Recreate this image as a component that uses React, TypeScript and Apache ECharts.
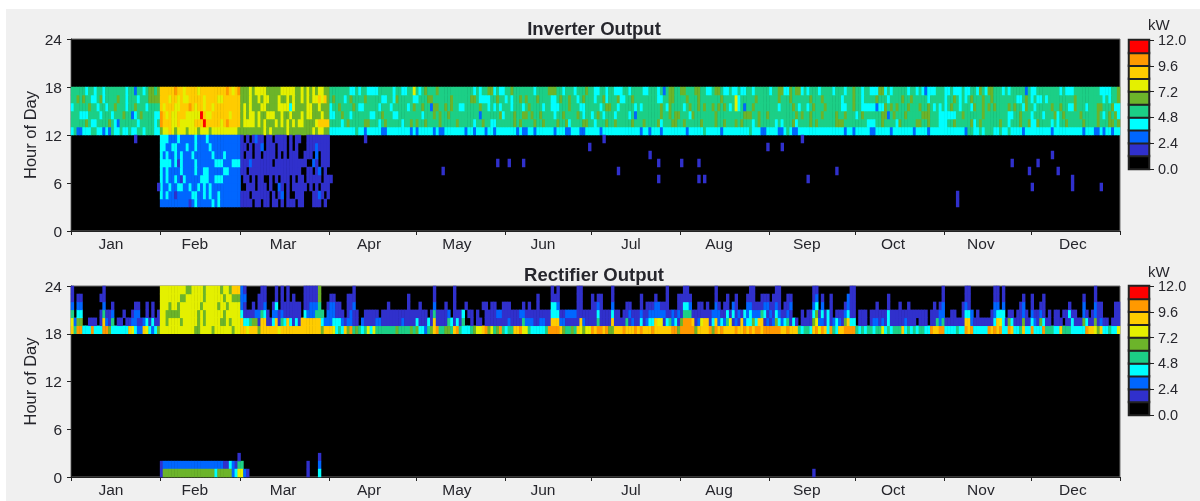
import React, { useEffect, useRef } from "react";
import * as echarts from "echarts";

// ---------- shared tables ----------
const months = ["Jan", "Feb", "Mar", "Apr", "May", "Jun", "Jul", "Aug", "Sep", "Oct", "Nov", "Dec"];
const monthStarts = [0, 31, 59, 90, 120, 151, 181, 212, 243, 273, 304, 334, 365];
const monthLabelDays = [13.9, 43.1, 73.8, 103.7, 134.3, 164.2, 194.8, 225.5, 256, 286, 316.6, 348.6];
const hourTicks = ["0", "6", "12", "18", "24"];
// one digit per day = colour band of the legend (0 = black ... 9 = red)
const bandValues = [0.6, 1.8, 3.0, 4.2, 5.4, 6.6, 7.8, 9.0, 10.2, 11.4];
const bandColors = ["#000000", "#3030cc", "#0066ff", "#00ffff", "#1ccf86", "#6cb42a", "#e4f000", "#ffcc00", "#ff9900", "#ff0000"];

// ---------- Inverter Output, 12:00-18:00 ----------
const invH17 = "44444 34434 43444 44443 44244 34554 5|77777 87767 77767 77777 77787 678|55565 66665 55556 66665 56565 65665 5|44444 44334 34433 33444 44344 33446|43454 44544 44444 44444 34344 55343 3|44544 44444 34444 55544 34443 44454|43344 34433 34434 44433 44434 24554 4|55444 55443 34554 33433 43344 34444 4|34455 33545 53434 44344 44344 43445|44344 33355 34344 44434 43432 33344 4|33433 34334 43543 55444 34344 44424|33444 44444 34333 44444 44443 33344 5";
const invH16 = "44545 44334 53444 45443 44434 44555 5|77767 76766 77777 67777 66777 777|55565 56566 55565 56565 56565 66767 5|45444 34544 44544 44433 44354 44443|34445 54444 44544 44445 54333 34454 4|34344 54544 45444 43345 44544 34544|43445 34445 33445 44444 44433 44554 4|44544 45444 44445 44446 34444 45444 4|44454 44544 44445 44454 44444 34445|44344 44544 43444 45445 44444 34444 4|34454 34345 44454 45444 44444 33454|34334 34444 44444 54444 44444 34344 5";
const invH15 = "34444 45443 44344 54443 44544 43444 4|76777 66777 87677 67767 77777 777|56565 55665 55566 66365 55566 55655 5|34454 44454 33444 44344 43444 44345|44544 25544 54544 33444 44544 34343 4|44344 43454 44434 43334 44544 43344|44434 55443 44444 34344 44445 43544 4|43454 45454 45454 54346 34244 54444 4|44434 44454 34434 54445 44444 33445|44333 33233 54545 44454 44544 54343 4|34544 34443 54454 54544 44545 44354|43444 44544 54433 54443 44455 44453 3";
const invH14 = "44433 34444 34443 44454 42345 44443 3|87676 67776 66669 76677 77776 777|56566 56556 66556 55655 56566 55565 5|33445 44344 44443 34454 44334 44444|44344 45454 45444 44444 44244 44445 3|44454 45545 44544 44344 54444 54344|34543 44434 44434 24444 44445 44545 5|44435 44444 44544 44444 44555 44544 5|44444 44445 45445 44454 44454 45444|34544 44445 52454 44544 44455 54443 3|33334 45444 44454 44444 44334 45444|34443 44453 45444 44544 44454 34545 3";
const invH13 = "44444 54334 44454 32444 44434 44443 4|87776 67666 66777 97777 76787 777|56666 56565 55656 56565 66555 56777 7|44443 45444 44554 44345 44444 34454|54454 44454 44445 44444 34454 43344 4|44454 54444 54454 44454 45344 44554|43444 54454 44445 44454 44453 44455 4|45444 44544 44544 54445 45444 34544 4|44343 44453 44445 45444 44455 54444|44443 33445 44443 54444 45544 54443 3|34454 44445 34544 44445 44344 45445|33544 44343 44544 44454 44454 44554 5";
const invH12 = "34223 33443 32324 33433 43344 34443 3|56676 56665 66656 66566 66666 665|55555 55565 65555 56555 55555 65665 5|33333 33334 33233 33322 33333 33323|23333 32322 33333 33233 23332 33233 3|33332 32233 23333 33233 32233 32233|33323 33333 33333 33233 23332 33333 3|33233 33343 33332 33333 33334 33322 3|33322 34322 33333 33333 33333 32332|33333 22333 33233 33333 23333 23333 3|33333 33244 33434 44334 33433 33233|33333 33233 33333 33323 33223 23323 3";

// ---------- Inverter Output, Feb + Mar mornings ----------
const invLowStartDay = 31;
const invH11 = "33322 23222 22322 23222 22222 222|10101 21101 10111 10101 10011 11111 1";
const invH10 = "33223 32223 22322 22322 22222 222|11010 11201 11011 10101 00011 12111 1";
const invH9 = "32322 32322 23222 22232 22322 222|10110 11011 11010 10111 00111 02011 1";
const invH8 = "33332 31322 22322 22223 33222 333|11121 11111 10111 11111 11100 21011 1";
const invH7 = "32322 22322 22322 33222 22332 222|11011 11111 11111 11111 10011 01201 0";
const invH6 = "32322 32132 22223 33223 33222 222|01101 01100 10101 11010 11011 11101 1";
const invH5 = "32232 23322 32232 32322 22222 222|00111 01110 10021 01011 11101 01011 1";
const invH4 = "32322 12222 23322 32322 32222 222|11101 11111 01012 01001 11000 11210 1";
const invH3 = "22222 22222 12322 22232 32222 222|11110 11011 01101 01110 11000 11101 0";

// isolated indigo hours: [day, hour]
const invIsolated = [
  [22, 11], [102, 11], [90, 6], [30, 5], [185, 11], [180, 10], [242, 10], [247, 10], [201, 9],
  [148, 8], [152, 8], [157, 8], [204, 8], [212, 8], [218, 8], [129, 7], [190, 7], [204, 6], [218, 6], [220, 6],
  [254, 11], [341, 9], [327, 8], [336, 8], [266, 7], [333, 7], [343, 7], [348, 6], [348, 5], [256, 6],
  [334, 5], [358, 5], [308, 4], [308, 3],
];

// ---------- Rectifier Output, 18:00-24:00 ----------
const recH23 = "10000 00000 01000 00000 00000 00000 0|66666 66665 56666 56666 65665 777|21000 00110 00101 01000 00111 11500 0|00000 00010 00000 00000 00000 00000|00000 01000 00010 00000 00000 00000 0|00000 00000 00000 01010 00000 11000|00000 00100 00000 00000 00000 01000 0|01100 00000 00100 00000 00001 10000 0|00110 00000 00000 11000 00000 00011|00000 00000 00000 00000 00000 00000 1|00000 00110 00000 00110 10000 00000|00000 00000 00000 00000 00100 00000 0";
const recH22 = "10110 00000 11000 00000 00000 00000 0|66666 66556 66666 56666 66566 555|22000 01110 00101 01010 00111 11500 0|11000 01110 00000 00000 00000 00100|00000 01000 00010 00000 00000 00000 0|00000 00000 01000 01110 00000 11000|10110 00100 00000 00100 00100 01000 1|11110 00000 00100 01001 00011 10011 1|01110 01100 00000 12010 01000 00211|00000 00000 01000 00000 00000 00000 1|00000 00110 00000 00110 10000 00100|10001 00000 00000 00010 00100 00000 0";
const recH21 = "20220 00000 02001 00000 00110 01010 0|66656 65666 66665 66666 56656 666|21001 01120 01301 11111 10112 22400 1|22110 01120 00000 00000 10000 00100|01000 02000 10010 00100 00011 01100 1|11000 01010 01000 03320 00000 11000|11210 00200 00110 00101 11221 11000 1|13320 01101 00210 11021 00022 11112 2|11210 11200 00000 23020 01000 01211|00000 00100 01000 10010 00000 00101 2|00000 01210 00000 00220 20000 01200|10011 00000 00010 00020 00211 00001 1";
const recH20 = "40330 00000 14112 00010 01220 01010 1|66555 55666 66656 56666 66566 666|31111 22431 02212 11111 10322 24440 2|22111 01211 00111 11011 11111 11111|11110 14111 12011 13011 01001 11122 1|11111 22111 11111 13331 12222 11111|11311 11311 01121 11211 22222 21121 2|14441 11111 12221 13131 21323 22243 1|21321 12100 01011 35131 31011 12311|01110 11111 13111 11111 11111 01112 2|00110 01332 01000 01233 30110 11210|21121 01011 01131 10021 01211 00001 1";
const recH19 = "62550 01110 17214 01101 12211 23131 1|66566 66566 66656 56666 65565 666|73345 51771 13714 37313 17777 77732 2|23332 12211 02111 12211 11111 21111|31113 17111 14313 14001 01101 11111 1|12111 14222 11221 17772 21111 17211|11411 11711 11412 11312 33766 13423 1|58887 12677 13723 24612 17233 53771 2|12532 34131 01111 56221 31232 15733|01110 12212 13111 11211 10111 01142 4|11111 11772 11111 11376 31531 11511|32153 11011 10113 11153 11512 11011 1";
const recH18 = "74883 33833 38853 33333 76322 76323 5|66666 66666 66556 66656 66666 566|77677 75777 77767 77777 77777 77757 7|76343 75845 43463 64444 44454 44454|53324 57844 55478 43334 56678 56458 4|34477 86643 33334 88887 54454 76566|87887 85577 78777 87877 78777 77788 5|88888 57777 85878 77778 77878 78878 8|88887 78777 43443 78687 38437 78888|43434 43446 34344 47343 43443 38778 8|33334 33878 33333 87878 33873 34733|83338 44433 74443 33338 77657 33433 6";

// ---------- Rectifier Output, small hours ----------
const recLowStartDay = 31;
const recH1 = "12222 22222 22222 22222 22113 214|4";
const recH0 = "15555 55555 55555 55553 55555 236|62100";
// isolated hours: [day, hour, band]
const recIsolated = [
  [58, 2, 1], [82, 1, 1], [82, 0, 1], [86, 2, 1], [86, 1, 2], [86, 0, 3], [258, 0, 1],
];

type Cell = [number, number, number];

function decode(text: string) {
  return text.replace(/[ |]/g, "").split("").map(Number);
}

function addRow(cells: Cell[], hour: number, text: string, startDay: number) {
  decode(text).forEach((band, i) => {
    if (band > 0) cells.push([startDay + i, hour, bandValues[band]]);
  });
}

function inverterCells() {
  const cells: Cell[] = [];
  [invH12, invH13, invH14, invH15, invH16, invH17].forEach((t, i) => addRow(cells, 12 + i, t, 0));
  [invH3, invH4, invH5, invH6, invH7, invH8, invH9, invH10, invH11].forEach((t, i) => addRow(cells, 3 + i, t, invLowStartDay));
  invIsolated.forEach(([d, h]) => cells.push([d, h, bandValues[1]]));
  return cells;
}

function rectifierCells() {
  const cells: Cell[] = [];
  [recH18, recH19, recH20, recH21, recH22, recH23].forEach((t, i) => addRow(cells, 18 + i, t, 0));
  addRow(cells, 1, recH1, recLowStartDay);
  addRow(cells, 0, recH0, recLowStartDay);
  recIsolated.forEach(([d, h, b]) => cells.push([d, h, bandValues[b]]));
  return cells;
}

const FONT = "Liberation Sans";
const TEXT = "#26262c";
const dayNames = Array.from({ length: 365 }, (_, i) => String(i));
const hourNames = Array.from({ length: 24 }, (_, i) => String(i));
const bandNames = bandValues.map((_, i) => String(i));

const plots = [
  { title: "Inverter Output", top: 39, height: 192, legendTop: 40, titleTop: 19, kwTop: 17 },
  { title: "Rectifier Output", top: 286, height: 191, legendTop: 286, titleTop: 265, kwTop: 264 },
];
const LEGEND_H = 129;

function buildOption() {
  const grid: any[] = [];
  const xAxis: any[] = [];
  const yAxis: any[] = [];
  const series: any[] = [];
  const title: any[] = [];
  const seriesCells = [inverterCells(), rectifierCells()];

  plots.forEach((p, k) => {
    const g = k * 2;
    const base = xAxis.length;
    grid.push({
      left: 71, width: 1049, top: p.top, height: p.height, show: true,
      backgroundColor: "#000", borderColor: "#6e6e6e", borderWidth: 1,
    });
    grid.push({
      left: 1129, width: 20, top: p.legendTop, height: LEGEND_H, show: true,
      backgroundColor: "#000", borderColor: "#333", borderWidth: 1,
    });
    xAxis.push({ type: "category", gridIndex: g, data: dayNames, show: false });
    xAxis.push({
      type: "value", gridIndex: g, min: 0, max: 365, position: "bottom",
      splitLine: { show: false },
      axisLine: { show: true, lineStyle: { color: "#222" } },
      axisTick: { show: true, length: 4, customValues: monthStarts, lineStyle: { color: "#222" } },
      axisLabel: {
        show: true, customValues: monthLabelDays, margin: 4, fontFamily: FONT, fontSize: 15.5, color: TEXT,
        formatter: (v: number) => months[monthLabelDays.indexOf(v)] ?? "",
      },
    });
    xAxis.push({ type: "category", gridIndex: g + 1, data: ["kW"], show: false });

    yAxis.push({ type: "category", gridIndex: g, data: hourNames, show: false });
    yAxis.push({
      type: "value", gridIndex: g, min: 0, max: 24, interval: 6, position: "left",
      name: "Hour of Day", nameLocation: "middle", nameGap: 33, nameMoveOverlap: false,
      nameTextStyle: { fontFamily: FONT, fontSize: 16.5, color: TEXT },
      splitLine: { show: false },
      axisLine: { show: true, lineStyle: { color: "#222" } },
      axisTick: { show: true, length: 4, lineStyle: { color: "#222" } },
      axisLabel: {
        margin: 9, fontFamily: FONT, fontSize: 15.5, color: TEXT,
        formatter: (v: number) => (hourTicks.includes(String(v)) ? String(v) : ""),
      },
    });
    yAxis.push({ type: "category", gridIndex: g + 1, data: bandNames, show: false });
    yAxis.push({
      type: "value", gridIndex: g + 1, min: 0, max: 12, interval: 2.4, position: "right",
      splitLine: { show: false },
      axisLine: { show: true, lineStyle: { color: "#222" } },
      axisTick: { show: true, length: 5, lineStyle: { color: "#222" } },
      axisLabel: {
        margin: 9, fontFamily: FONT, fontSize: 14.5, color: TEXT,
        formatter: (v: number) => v.toFixed(1),
      },
    });

    series.push({
      type: "heatmap", xAxisIndex: base, yAxisIndex: k * 4, data: seriesCells[k],
      progressive: 0, silent: true,
    });
    series.push({
      type: "heatmap", xAxisIndex: base + 2, yAxisIndex: k * 4 + 2,
      data: bandValues.map((v, i) => [0, i, v]),
      itemStyle: { borderColor: "#222222", borderWidth: 2 },
      silent: true,
    });

    title.push({
      text: p.title, left: 594, top: p.titleTop, textAlign: "center", padding: 0,
      textStyle: { fontFamily: FONT, fontSize: 18.5, fontWeight: "bold", color: TEXT },
    });
    title.push({
      text: "kW", left: 1148, top: p.kwTop, padding: 0,
      textStyle: { fontFamily: FONT, fontSize: 15, fontWeight: "normal", color: TEXT },
    });
  });

  return {
    animation: false,
    backgroundColor: "#ffffff",
    graphic: [{
      type: "rect", silent: true, z: -10,
      shape: { x: 6, y: 9, width: 1194, height: 492 },
      style: { fill: "#f0f0f0" },
    }],
    title, grid, xAxis, yAxis, series,
    visualMap: {
      type: "piecewise", show: false, seriesIndex: [0, 1, 2, 3], dimension: 2,
      pieces: bandColors.map((color, i) => ({ gte: i * 1.2, lt: (i + 1) * 1.2, color })),
    },
  };
}

export default function App() {
  const ref = useRef<HTMLDivElement>(null);
  useEffect(() => {
    const chart = echarts.init(ref.current!, undefined, { renderer: "svg" });
    chart.setOption(buildOption() as any);
    return () => chart.dispose();
  }, []);
  return (
    <div
      ref={ref}
      style={{ position: "absolute", left: 0, top: 0, width: 1200, height: 501, filter: "blur(0.5px)" }}
    />
  );
}
